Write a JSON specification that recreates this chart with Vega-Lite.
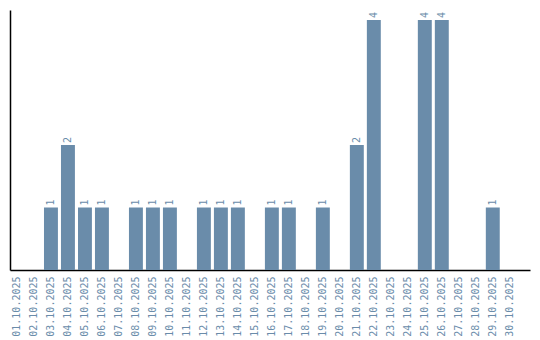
{
  "$schema": "https://vega.github.io/schema/vega-lite/v6.json",
  "autosize": "none",
  "padding": {"left": 10, "top": 10, "right": 10, "bottom": 70},
  "width": 520,
  "height": 260,
  "background": "white",
  "config": {"view": {"stroke": null}, "font": "DejaVu Sans Mono"},
  "data": {"values": [
    {"date": "01.10.2025", "count": 0},
    {"date": "02.10.2025", "count": 0},
    {"date": "03.10.2025", "count": 1},
    {"date": "04.10.2025", "count": 2},
    {"date": "05.10.2025", "count": 1},
    {"date": "06.10.2025", "count": 1},
    {"date": "07.10.2025", "count": 0},
    {"date": "08.10.2025", "count": 1},
    {"date": "09.10.2025", "count": 1},
    {"date": "10.10.2025", "count": 1},
    {"date": "11.10.2025", "count": 0},
    {"date": "12.10.2025", "count": 1},
    {"date": "13.10.2025", "count": 1},
    {"date": "14.10.2025", "count": 1},
    {"date": "15.10.2025", "count": 0},
    {"date": "16.10.2025", "count": 1},
    {"date": "17.10.2025", "count": 1},
    {"date": "18.10.2025", "count": 0},
    {"date": "19.10.2025", "count": 1},
    {"date": "20.10.2025", "count": 0},
    {"date": "21.10.2025", "count": 2},
    {"date": "22.10.2025", "count": 4},
    {"date": "23.10.2025", "count": 0},
    {"date": "24.10.2025", "count": 0},
    {"date": "25.10.2025", "count": 4},
    {"date": "26.10.2025", "count": 4},
    {"date": "27.10.2025", "count": 0},
    {"date": "28.10.2025", "count": 0},
    {"date": "29.10.2025", "count": 1},
    {"date": "30.10.2025", "count": 0}
  ]},
  "encoding": {
    "x": {
      "field": "date", "type": "nominal", "sort": null,
      "scale": {"paddingInner": 0.18, "paddingOuter": 0.39, "align": 0},
      "axis": {"title": null, "labelAngle": -90, "ticks": false, "domainColor": "black", "domainWidth": 1.5,
               "labelColor": "#6a8caa", "labelFont": "DejaVu Sans Mono", "labelFontSize": 10, "labelPadding": 6}
    },
    "y": {
      "field": "count", "type": "quantitative",
      "scale": {"domain": [0, 4.16], "nice": false},
      "axis": {"title": null, "labels": false, "ticks": false, "grid": false, "domainColor": "black", "domainWidth": 1.5}
    }
  },
  "layer": [
    {"mark": {"type": "bar", "color": "#6a8caa"}},
    {
      "transform": [{"filter": "datum.count > 0"}],
      "mark": {"type": "text", "angle": 270, "align": "left", "baseline": "middle", "dx": 2,
               "color": "#6a8caa", "font": "DejaVu Sans Mono", "fontSize": 10},
      "encoding": {"text": {"field": "count", "type": "quantitative"}}
    }
  ]
}
